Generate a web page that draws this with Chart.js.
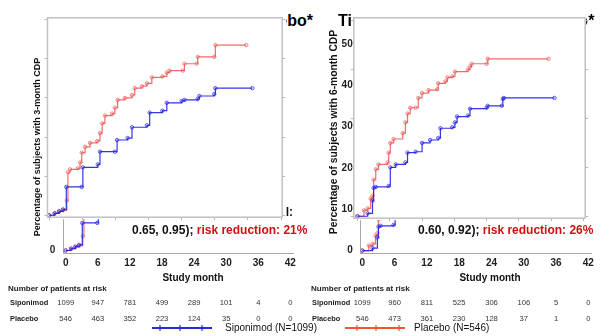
<!DOCTYPE html>
<html>
<head>
<meta charset="utf-8">
<script src="https://cdn.jsdelivr.net/npm/chart.js@4.4.1/dist/chart.umd.min.js"></script>
<style>
  html, body { margin: 0; padding: 0; background: #fff; }
  #page { position: relative; width: 616px; height: 336px; overflow: hidden;
          font-family: "Liberation Sans", Arial, sans-serif; color: #111; }
  canvas { position: absolute; }
  .t { position: absolute; white-space: nowrap; }
  .title { font-size: 16px; line-height: 16px; font-weight: bold; color: #000; }
  .hr { font-size: 12px; line-height: 12px; font-weight: bold; color: #111; }
  .red { color: #d01010; }
  .ytitle { font-weight: bold; transform: translate(-50%, -50%) rotate(-90deg); color: #111; }
  .xtitle { font-size: 10px; line-height: 10px; font-weight: bold; transform: translateX(-50%); color: #111; }
  .risk { font-size: 8px; line-height: 8px; font-weight: bold; color: #222; }
  .rowname { font-size: 7.4px; line-height: 8px; font-weight: bold; color: #222; }
  .leg { font-size: 10px; line-height: 10px; color: #111; }
</style>
</head>
<body>
<div id="page">
  <!-- full-range charts (background layer) -->
  <canvas id="base3" width="300" height="306" style="left:0;top:30px"></canvas>
  <canvas id="base6" width="300" height="306" style="left:298px;top:30px"></canvas>

  <!-- panel headings and hazard ratio notes -->
  <div class="t title" style="right:303px;top:13px">Time to 3-month CDP vs Placebo*</div>
  <div class="t title" style="left:338px;top:13px">Time to 6-month CDP vs Placebo*</div>
  <div class="t hr" style="right:323px;top:206px">Hazard ratio: 0.79 (95% CI:</div>
  <div class="t hr" style="left:132px;top:224px">0.65, 0.95); <span class="red">risk reduction: 21%</span></div>
  <div class="t hr" style="right:30px;top:206px">Hazard ratio: 0.74 (95% CI:</div>
  <div class="t hr" style="left:418px;top:224px">0.60, 0.92); <span class="red">risk reduction: 26%</span></div>

  <!-- enlarged curve views on top -->
  <canvas id="inset3" width="246" height="209" style="left:41px;top:13px"></canvas>
  <canvas id="inset6" width="241" height="210" style="left:349px;top:13px"></canvas>

  <div class="t ytitle" style="left:37px;top:147px;font-size:9px">Percentage of subjects with 3-month CDP</div>
  <div class="t ytitle" style="left:333px;top:132px;font-size:10.3px">Percentage of subjects with 6-month CDP</div>

  <div class="t xtitle" style="left:193px;top:273px">Study month</div>
  <div class="t xtitle" style="left:490px;top:273px">Study month</div>

  <div class="t risk" style="left:8px;top:285px">Number of patients at risk</div>
  <div class="t rowname" style="left:10px;top:299px">Siponimod</div>
  <div class="t rowname" style="left:10px;top:315px">Placebo</div>
  <div class="t risk" style="left:311px;top:285px">Number of patients at risk</div>
  <div class="t rowname" style="left:312px;top:299px">Siponimod</div>
  <div class="t rowname" style="left:312px;top:315px">Placebo</div>

  <!-- legend -->
  <svg class="t" style="left:150px;top:323px" width="64" height="10">
    <line x1="2" y1="5" x2="62" y2="5" stroke="#2a2ad0" stroke-width="2"/>
    <line x1="10" y1="2" x2="10" y2="8" stroke="#2a2ad0" stroke-width="1.2"/>
    <line x1="30" y1="2" x2="30" y2="8" stroke="#2a2ad0" stroke-width="1.2"/>
    <line x1="52" y1="2" x2="52" y2="8" stroke="#2a2ad0" stroke-width="1.2"/>
  </svg>
  <div class="t leg" style="left:225px;top:323px">Siponimod (N=1099)</div>
  <svg class="t" style="left:343px;top:323px" width="64" height="10">
    <line x1="2" y1="5" x2="62" y2="5" stroke="#ee5533" stroke-width="2"/>
    <line x1="14" y1="2" x2="14" y2="8" stroke="#ee5533" stroke-width="1.2"/>
    <line x1="33" y1="2" x2="33" y2="8" stroke="#ee5533" stroke-width="1.2"/>
    <line x1="56" y1="2" x2="56" y2="8" stroke="#ee5533" stroke-width="1.2"/>
  </svg>
  <div class="t leg" style="left:414px;top:323px">Placebo (N=546)</div>
</div>

<script>
// Axis tick values
const monthTicks = [0, 6, 12, 18, 24, 30, 36, 42];
const pctTicks = [0, 10, 20, 30, 40, 50];
const pctTicks6 = [0, 10, 20, 30, 40];

// Kaplan-Meier estimates, 3-month confirmed disability progression (%)
const cdp3SiponimodMonth = [0, 1.0, 1.8, 2.5, 3.1, 5.9, 6.1, 8.8, 9.2, 11.9, 12.3, 14.2, 15.0, 17.7, 18.2, 20.5, 21.3, 24.0, 24.5, 26.9, 27.2, 29.9, 30.1, 36.8];
const cdp3SiponimodPct   = [0, 0.5, 1.0, 1.5, 7.25, 7.25, 12.25, 13, 16.25, 16.25, 19.25, 19.75, 22.5, 23, 26.25, 26.75, 28.75, 29.25, 29.5, 29.75, 30.5, 31, 32.5, 32.5];
const cdp3PlaceboMonth   = [0, 1.0, 1.8, 2.5, 3.2, 3.4, 3.8, 5.2, 5.6, 5.9, 6.5, 7.4, 8.7, 9.2, 9.6, 10.1, 11.4, 11.9, 12.4, 13.7, 15.0, 15.5, 16.8, 17.7, 18.6, 20.5, 21.3, 21.8, 24.2, 24.5, 26.7, 26.9, 29.9, 30.1, 35.7];
const cdp3PlaceboPct     = [0, 0.5, 1.0, 1.25, 3.75, 11, 11.75, 12, 13.5, 16, 17.5, 18.5, 19, 21, 23.5, 25.5, 26, 27.5, 29.5, 30, 30.75, 32.5, 33, 33.75, 35.25, 35.5, 36.5, 37, 37, 38.75, 38.75, 40.5, 40.5, 43.5, 43.5];

// Kaplan-Meier estimates, 6-month confirmed disability progression (%)
const cdp6SiponimodMonth = [0, 1.9, 2.8, 3.0, 3.4, 5.8, 6.1, 7.1, 8.9, 9.3, 10.8, 12.0, 13.5, 15.0, 15.4, 17.6, 18.1, 18.5, 20.5, 20.9, 24.0, 24.2, 26.8, 27.0, 27.2, 36.6];
const cdp6SiponimodPct   = [0, 0.6, 3.2, 5.8, 6, 6.2, 10, 10.6, 11, 13, 13.2, 15, 15.6, 16, 18, 18.2, 19.2, 20.4, 20.6, 22, 22.2, 22.6, 22.6, 24, 24.2, 24.2];
const cdp6PlaceboMonth   = [0, 1.2, 1.9, 2.45, 2.8, 3.0, 3.4, 3.9, 5.6, 5.8, 6.1, 6.7, 8.4, 8.9, 9.3, 9.8, 10.8, 11.3, 12.0, 13.2, 14.8, 15.0, 16.3, 16.7, 17.6, 18.1, 20.5, 20.9, 21.2, 24.0, 24.2, 35.5];
const cdp6PlaceboPct     = [0, 1.2, 1.6, 3.6, 4.2, 7.5, 9.6, 10.6, 11, 13, 15, 15.8, 17, 19.2, 21, 22.2, 22.2, 24.2, 25.2, 25.8, 26, 27.2, 27.6, 28.4, 28.6, 29.6, 30, 30.6, 31.2, 31.2, 32.2, 32.2];

// Number of patients at risk at each month tick
const atRisk3Siponimod = [1099, 947, 781, 499, 289, 101, 4, 0];
const atRisk3Placebo   = [546, 463, 352, 223, 124, 35, 0, 0];
const atRisk6Siponimod = [1099, 960, 811, 525, 306, 106, 5, 0];
const atRisk6Placebo   = [546, 473, 361, 230, 128, 37, 1, 0];

const FONT = '"Liberation Sans", Arial, sans-serif';
const BLUE = 'rgba(36,36,228,0.92)';
const RED = 'rgba(240,82,82,0.85)';

function points(months, pct) {
  return months.map((m, i) => ({ x: m, y: pct[i] }));
}

function curves(sipM, sipP, plaM, plaP) {
  const common = { stepped: true, borderWidth: 1.2, pointRadius: 1.7, pointBorderWidth: 0.8,
                   pointBackgroundColor: 'rgba(255,255,255,0)', fill: false };
  return [
    Object.assign({ label: 'Siponimod', data: points(sipM, sipP), borderColor: BLUE, pointBorderColor: BLUE }, common),
    Object.assign({ label: 'Placebo', data: points(plaM, plaP), borderColor: RED, pointBorderColor: RED }, common)
  ];
}

const fixTicks = vals => s => { s.ticks = vals.map(v => ({ value: v })); };

// Writes the at-risk counts under each month tick of the x scale
const atRiskRows = {
  id: 'atRiskRows',
  afterDraw(chart, args, o) {
    if (!o.rows) return;
    const c = chart.ctx, xs = chart.scales.x;
    c.save();
    c.font = '7.6px ' + FONT;
    c.fillStyle = '#333';
    c.textAlign = 'center';
    c.textBaseline = 'middle';
    o.rows.forEach(r => {
      r.values.forEach((v, i) => c.fillText(String(v), xs.getPixelForValue(monthTicks[i]), r.y));
    });
    c.restore();
  }
};

// White backing and grey frame of the enlarged view
const insetPanel = {
  id: 'insetPanel',
  beforeDraw(chart, args, o) {
    const a = chart.chartArea, c = chart.ctx;
    c.save();
    c.fillStyle = '#fff';
    const x0 = a.left - o.fillLeft;
    c.fillRect(x0, 0, a.right + o.fillRight - x0, a.bottom + o.fillBottom);
    c.restore();
  },
  afterDraw(chart) {
    const a = chart.chartArea, c = chart.ctx;
    c.save();
    c.strokeStyle = '#c2c2c2';
    c.lineWidth = 1.5;
    c.strokeRect(a.left, a.top, a.right - a.left, a.bottom - a.top);
    c.restore();
  }
};

function makeBase(id, sets, o) {
  const axisGrid = { drawOnChartArea: false, drawTicks: false };
  const axisBorder = { color: '#a8a8a8', width: 1 };
  const tickFont = { family: FONT, size: 10, weight: 'bold' };
  return new Chart(document.getElementById(id), {
    type: 'line',
    data: { datasets: sets },
    options: {
      responsive: false, animation: false, events: [],
      layout: { padding: { left: o.padL, right: o.padR, top: o.padT, bottom: o.padB } },
      plugins: { legend: { display: false }, tooltip: { enabled: false }, atRiskRows: { rows: o.rows } },
      scales: {
        x: { type: 'linear', min: o.xMin, max: o.xMax, afterBuildTicks: fixTicks(monthTicks),
             afterFit: s => { s.height = 20; }, grid: axisGrid, border: axisBorder,
             ticks: { padding: 4, autoSkip: false, maxRotation: 0, color: '#1e1e1e', font: tickFont } },
        y: { type: 'linear', min: o.yMin, max: o.yMax, afterBuildTicks: fixTicks(pctTicks),
             afterFit: s => { s.width = 40; }, grid: axisGrid, border: axisBorder,
             ticks: { padding: 8, color: '#1e1e1e', font: tickFont } }
      }
    },
    plugins: [atRiskRows]
  });
}

function makeInset(id, sets, o) {
  const g = { drawOnChartArea: false, drawTicks: true, tickLength: 3, color: '#b8b8b8', lineWidth: 1 };
  const hidden = { display: false };
  return new Chart(document.getElementById(id), {
    type: 'line',
    data: { datasets: sets },
    options: {
      responsive: false, animation: false, events: [],
      layout: { padding: { left: o.padL, right: 0, top: 2, bottom: 0 } },
      plugins: { legend: { display: false }, tooltip: { enabled: false },
                 insetPanel: { fillLeft: o.fillLeft, fillRight: o.fillRight, fillBottom: 2 } },
      scales: {
        x:  { type: 'linear', min: o.xMin, max: o.xMax, afterBuildTicks: fixTicks(monthTicks),
              afterFit: s => { s.height = 3; }, grid: g, border: { display: false }, ticks: hidden },
        y:  { type: 'linear', min: o.yMin, max: o.yMax, afterBuildTicks: fixTicks(o.yTicks),
              afterFit: s => { s.width = 4; }, grid: g, border: { display: false }, ticks: hidden },
        y2: { type: 'linear', position: 'right', min: o.yMin, max: o.yMax, afterBuildTicks: fixTicks(o.yTicks),
              afterFit: s => { s.width = 4; }, grid: g, border: { display: false }, ticks: hidden }
      }
    },
    plugins: [insetPanel]
  });
}

makeBase('base3', curves(cdp3SiponimodMonth, cdp3SiponimodPct, cdp3PlaceboMonth, cdp3PlaceboPct), {
  padL: 23.3, padR: 4.4, padT: 30.5, padB: 62.5,
  xMin: -0.45, xMax: 42.61, yMin: -0.79, yMax: 50,
  rows: [{ y: 273, values: atRisk3Siponimod }, { y: 289, values: atRisk3Placebo }]
});
makeBase('base6', curves(cdp6SiponimodMonth, cdp6SiponimodPct, cdp6PlaceboMonth, cdp6PlaceboPct), {
  padL: 22.7, padR: 4.7, padT: 10.5, padB: 62.5,
  xMin: -0.3, xMax: 42.61, yMin: -0.71, yMax: 50,
  rows: [{ y: 273, values: atRisk6Siponimod }, { y: 289, values: atRisk6Placebo }]
});

makeInset('inset3', curves(cdp3SiponimodMonth, cdp3SiponimodPct, cdp3PlaceboMonth, cdp3PlaceboPct), {
  padL: 2.5, fillLeft: 6.5, fillRight: 4, xMin: -0.3, xMax: 42.2, yMin: -0.5, yMax: 50.5, yTicks: pctTicks
});
makeInset('inset6', curves(cdp6SiponimodMonth, cdp6SiponimodPct, cdp6PlaceboMonth, cdp6PlaceboPct), {
  padL: 0, fillLeft: 0.5, fillRight: 1, xMin: -0.68, xMax: 42.3, yMin: -0.4, yMax: 40.6, yTicks: pctTicks6
});
</script>
</body>
</html>
